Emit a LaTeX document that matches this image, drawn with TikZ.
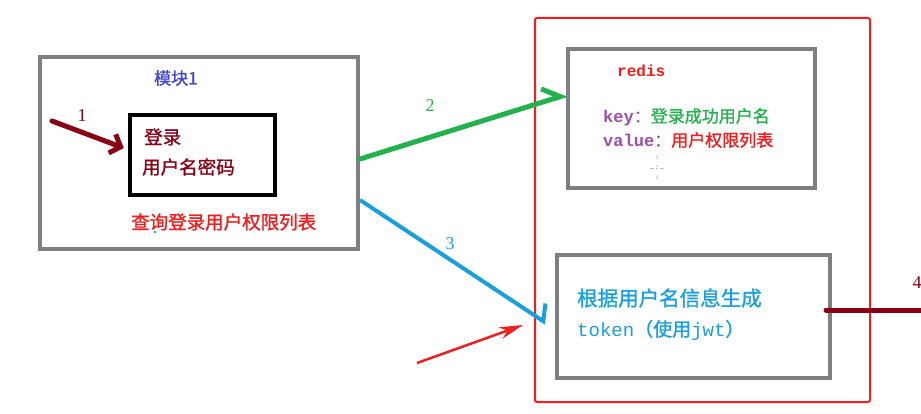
\documentclass[tikz,border=0pt]{standalone}
\usepackage{fontspec}
\setmainfont{Liberation Serif}
\newfontfamily\cjk[FakeBold=1.2]{Noto Sans CJK SC}
\newfontfamily\monof{Liberation Mono}
\usetikzlibrary{arrows.meta}
\definecolor{boxgray}{HTML}{7F7F7F}
\definecolor{dred}{HTML}{880015}
\definecolor{lred}{HTML}{F01E1E}
\definecolor{lgreen}{HTML}{22B14C}
\definecolor{lblue}{HTML}{19A0DC}
\definecolor{mblue}{HTML}{3F48CC}
\definecolor{purp}{HTML}{9B4FA8}
\tikzset{
  graybox/.style={draw=boxgray, line width=4pt, inner sep=0pt, fill=white},
  txt/.style={anchor=west, inner sep=0pt},
  num/.style={inner sep=0pt, font=\fontsize{18}{20}\selectfont},
}
\begin{document}
\begin{tikzpicture}[x=1pt,y=-1pt]
\useasboundingbox[fill=white] (0,0) rectangle (921,414);
% red frame
\node[draw=lred, line width=2pt, rounded corners=2pt, minimum width=335pt, minimum height=384pt, inner sep=0pt] (frame) at (702.5,210) {};
% module box
\node[graybox, minimum width=318pt, minimum height=192pt] (module) at (199,153) {};
\node[draw=black, line width=4.5pt, minimum width=145pt, minimum height=80pt, inner sep=0pt] (inner) at (202.5,155) {};
\node[txt, text=mblue, font=\cjk\fontsize{17}{18}\selectfont] (title) at (154,78) {模块1};
\node[txt, text=dred, font=\cjk\fontsize{18.5}{20}\selectfont] (login) at (144,137) {登录};
\node[txt, text=dred, font=\cjk\fontsize{18.5}{20}\selectfont] (upw) at (142,167) {用户名密码};
\node[txt, text=lred, font=\cjk\fontsize{18.5}{20}\selectfont] (query) at (131,222) {查询登录用户权限列表};
\fill[lblue] (155,232) circle (1.3pt);
% redis box
\node[graybox, minimum width=247pt, minimum height=139pt] (redis) at (691.5,118.5) {};
\node[txt, text=lred, font=\monof\bfseries\fontsize{16}{18}\selectfont] (rtitle) at (617,71) {redis};
\node[txt, font=\fontsize{17}{20}\selectfont] (key) at (603,117) {\textcolor{purp}{\monof\bfseries key}\textcolor{purp}{\cjk ：}\textcolor{lgreen}{\cjk 登录成功用户名}};
\node[txt, font=\fontsize{17}{20}\selectfont] (val) at (603,140) {\textcolor{purp}{\monof\bfseries value}\textcolor{purp}{\cjk ：}\textcolor{lred}{\cjk 用户权限列表}};
\node[inner sep=0pt, font=\fontsize{7}{8}\selectfont] (d1) at (657,158) {:};
\node[inner sep=0pt, font=\fontsize{7}{8}\selectfont] (d2) at (657,168) {.. : ..};
\node[inner sep=0pt, font=\fontsize{7}{8}\selectfont] (d3) at (657,178) {:};
% token box
\node[graybox, minimum width=273pt, minimum height=123pt] (token) at (693.5,316.5) {};
\node[txt, text=lblue, font=\cjk\fontsize{20.5}{22}\selectfont] (gen) at (577,298) {根据用户名信息生成};
\node[txt, text=lblue, font=\fontsize{19}{22}\selectfont] (jwt) at (577,330) {{\monof token}{\cjk （使用}{\monof jwt}{\cjk ）}};
% arrow 1
\coordinate (a1s) at (52,121);
\draw[dred, line width=5pt, line cap=round, -{Straight Barb[length=9pt,width=20pt,line width=5pt]}] (a1s) -- ([xshift=-4pt,yshift=7pt]inner.west);
\node[num, text=dred] (n1) at (82,116) {1};
% arrow 2
\draw[lgreen, line width=5pt, line cap=round, -{Straight Barb[left,length=16pt,width=26pt,line width=5pt]}] ([yshift=-6pt]module.east) -- ([xshift=1pt,yshift=24pt]redis.west);
\node[num, text=lgreen] (n2) at (430,106) {2};
% arrow 3
\draw[lblue, line width=4pt, -{Straight Barb[left,length=8pt,width=32pt,line width=4pt]}] ([yshift=-47pt]module.east) -- ([xshift=-9pt,yshift=-6.5pt]token.west);
\node[num, text=lblue] (n3) at (450,244) {3};
% arrow 4
\coordinate (a4e) at (921,310);
\draw[dred, line width=5pt, line cap=round] ([xshift=-6pt,yshift=6.5pt]token.east) -- (a4e);
\node[num, text=dred] (n4) at (917,283) {4};
% red pointer arrow
\coordinate (pa) at (417,363);
\coordinate (pb) at (523,325);
\draw[lred, line width=2.5pt, -{Stealth[length=24pt,width=12pt]}] (pa) -- (pb);
\end{tikzpicture}
\end{document}
